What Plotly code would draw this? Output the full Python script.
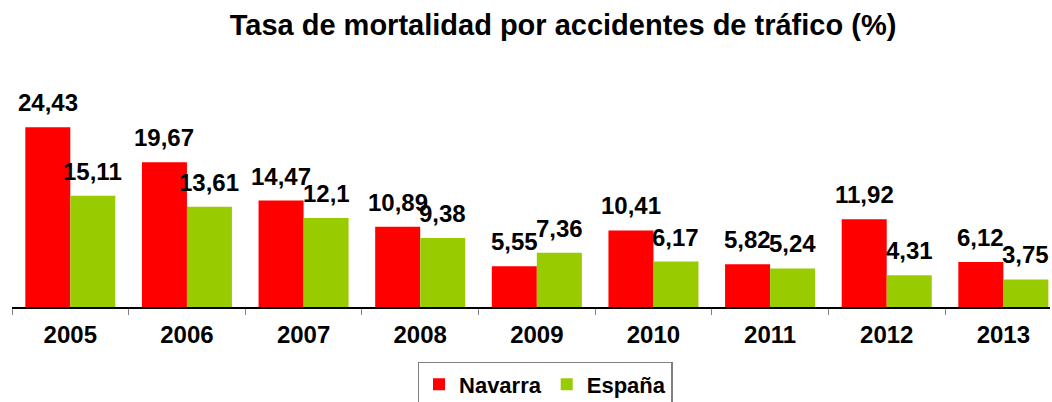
import plotly.graph_objects as go

years = ["2005", "2006", "2007", "2008", "2009", "2010", "2011", "2012", "2013"]
navarra = [24.43, 19.67, 14.47, 10.89, 5.55, 10.41, 5.82, 11.92, 6.12]
espana = [15.11, 13.61, 12.1, 9.38, 7.36, 6.17, 5.24, 4.31, 3.75]
navarra_txt = ["24,43", "19,67", "14,47", "10,89", "5,55", "10,41", "5,82", "11,92", "6,12"]
espana_txt = ["15,11", "13,61", "12,1", "9,38", "7,36", "6,17", "5,24", "4,31", "3,75"]

FONT = "Arial, Liberation Sans, sans-serif"
RED = "#ff0000"
GREEN = "#99cc00"

fig = go.Figure()
fig.add_trace(go.Bar(name="Navarra", x=years, y=navarra, marker=dict(color=RED, line=dict(width=0))))
fig.add_trace(go.Bar(name="España", x=years, y=espana, marker=dict(color=GREEN, line=dict(width=0))))

off = 0.193
ann = []
for i in range(len(years)):
    ann.append(dict(x=i - off, y=navarra[i], text=navarra_txt[i], xref="x", yref="y",
                    showarrow=False, yanchor="bottom", yshift=9,
                    font=dict(family=FONT, size=24, color="black", weight="bold")))
    ann.append(dict(x=i + off, y=espana[i], text=espana_txt[i], xref="x", yref="y",
                    showarrow=False, yanchor="bottom", yshift=9,
                    font=dict(family=FONT, size=24, color="black", weight="bold")))

fig.update_layout(
    width=1052, height=402,
    margin=dict(l=12, r=2, t=70, b=95, autoexpand=False),
    paper_bgcolor="white", plot_bgcolor="white",
    barmode="group", bargap=0.228, bargroupgap=0,
    title=dict(text="Tasa de mortalidad por accidentes de tráfico (%)", x=0.5352, xanchor="center",
               y=1 - 25 / 402, yanchor="middle",
               font=dict(family=FONT, size=29, color="black", weight="bold")),
    xaxis=dict(type="category", range=[-0.5, 8.4], tickson="boundaries", ticks="outside",
               ticklen=6, tickcolor="#808080", showline=True, linecolor="black", linewidth=1.5,
               ticklabelstandoff=5,
               showgrid=False, tickfont=dict(family=FONT, size=24, color="black", weight="bold")),
    yaxis=dict(range=[0, 32.2], visible=False, showgrid=False, zeroline=False),
    legend=dict(orientation="h", x=0.5135, xanchor="center", y=-0.232, yanchor="top",
                bordercolor="#7f7f7f", borderwidth=1.5,
                font=dict(family=FONT, size=22, color="black", weight="bold")),
    annotations=ann,
    showlegend=True,
)

fig.write_html("out.html", config={"displayModeBar": False},
               post_script="document.body.style.margin='0';document.body.style.overflow='hidden';")
